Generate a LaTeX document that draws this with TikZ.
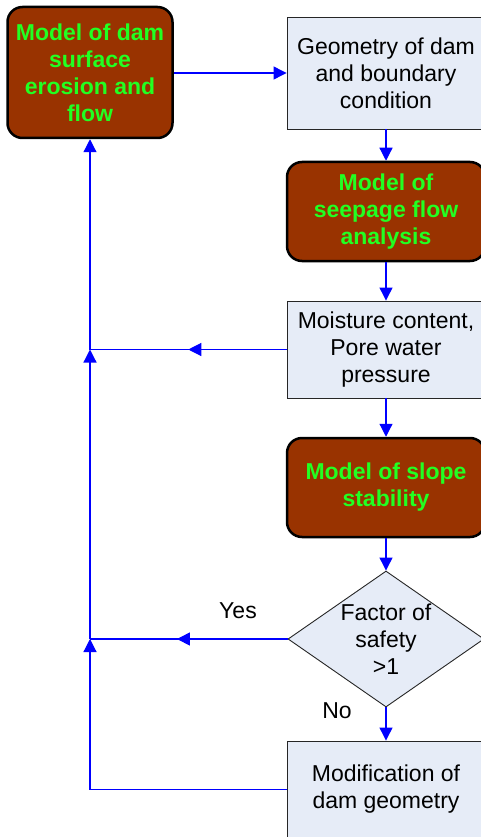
\documentclass[tikz,border=0pt]{standalone}
\usepackage{fontspec}
\setmainfont{Liberation Sans}
\usetikzlibrary{shapes.geometric,arrows.meta,decorations.markings}
\definecolor{brownfill}{HTML}{993300}
\definecolor{greentext}{HTML}{22FF22}
\definecolor{lightfill}{HTML}{E6ECF7}
\definecolor{flowblue}{HTML}{0000FF}
\tikzset{
  txt/.style={font=\fontsize{23}{27}\selectfont, align=center},
  modelbox/.style={txt, draw=black, line width=2.5pt, fill=brownfill, rounded corners=15pt,
    text=greentext, font=\fontsize{23}{27}\selectfont\bfseries, minimum width=196pt, inner sep=0pt},
  databox/.style={txt, draw=black!85, line width=0.9pt, fill=lightfill, minimum width=198pt, inner sep=0pt},
  decision/.style={diamond, draw=black!85, line width=0.9pt, fill=lightfill, inner sep=0pt,
    minimum width=196pt, minimum height=136pt},
  tip/.style={-{Triangle[length=13pt,width=13pt]}},
  flow/.style={draw=flowblue, line width=1.2pt, tip},
  plain/.style={draw=flowblue, line width=1.2pt},
  midarrow/.style={draw=flowblue, line width=1.2pt, postaction={decorate},
    decoration={markings, mark=at position #1 with {\arrow{Triangle[length=13pt,width=13pt]}}}},
}
\begin{document}
\begin{tikzpicture}[x=1pt,y=-1pt]
\useasboundingbox (0,0) rectangle (481,837);
\clip (0,0) rectangle (481,837);
% nodes
\node[modelbox, minimum width=165pt, minimum height=131pt] (top) at (90,72.5)
  {Model of dam\\surface\\erosion and\\flow};
\node[databox, minimum height=112pt] (geom) at (386,73) {Geometry of dam\\and boundary\\condition};
\node[modelbox, minimum width=198pt, minimum height=99pt] (seep) at (386,211.5) {Model of\\seepage flow\\analysis};
\node[databox, minimum height=97pt] (moist) at (386,349.5) {Moisture content,\\Pore water\\pressure};
\node[modelbox, minimum width=198pt, minimum height=99pt] (slope) at (386,487.5) {Model of slope\\stability};
\node[decision] (dia) at (386,639) {};
\node[txt] (diatxt) at (dia.center) {Factor of\\safety\\>1};
\node[databox, minimum height=97pt] (mod) at (386,789.5) {Modification of\\dam geometry};
\node[txt] (yes) at (238,611) {Yes};
\node[txt] (no) at (337,711) {No};
% junctions
\coordinate (j1) at (top.south |- moist.west);
\coordinate (j2) at (top.south |- dia.west);
\coordinate (j3) at (top.south |- mod.west);
% connectors
\draw[flow] (top.east |- geom.west) -- (geom.west);
\draw[flow] (geom.south) -- (seep.north);
\draw[flow] (seep.south) -- (moist.north);
\draw[flow] (moist.south) -- (slope.north);
\draw[flow] (slope.south) -- (dia.north);
\draw[flow] (dia.south) -- (mod.north);
\draw[midarrow=0.5] (moist.west) -- (j1);
\draw[flow] (j1) -- (top.south);
\draw[midarrow=0.56] (dia.west) -- (j2);
\draw[flow] (j2) -- (j1);
\draw[plain] (mod.west) -- (j3);
\draw[flow] (j3) -- (j2);
\end{tikzpicture}
\end{document}
